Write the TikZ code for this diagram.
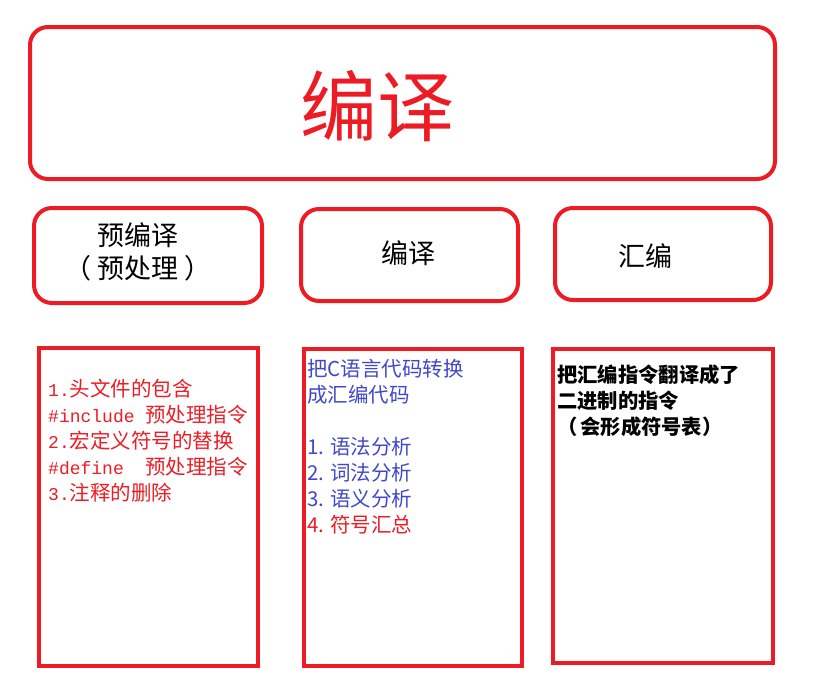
\documentclass[tikz,border=0pt]{standalone}
\usepackage{fontspec}
\setmainfont{Noto Sans CJK SC}
\newfontfamily\cjk{Noto Sans CJK SC}
\newfontfamily\monof{Liberation Mono}
\definecolor{cred}{HTML}{ED1C24}
\definecolor{cblue}{HTML}{3F48CC}
\newcommand{\mn}[1]{{\monof\fontsize{18}{26}\selectfont #1}}
\begin{document}
\begin{tikzpicture}[x=1pt,y=-1pt,
  rbox/.style={draw=cred,line width=4pt,rounded corners=18pt,inner sep=0pt},
  sbox/.style={draw=cred,line width=4pt,inner sep=0pt},
  lbl/.style={font=\fontsize{27}{33}\selectfont,align=center,text=black},
  body/.style={anchor=north west,inner sep=0pt,align=left,font=\fontsize{20.5}{26}\selectfont}]
\useasboundingbox (0,0) rectangle (823,686);
\node[rbox,minimum width=745pt,minimum height=152pt] (top) at (402.5,103) {};
\node[font=\fontsize{77}{77}\selectfont,text=cred] (title) at (377,106) {编译};
\node[rbox,minimum width=228pt,minimum height=95pt] (ba) at (148,255.5) {};
\node[rbox,minimum width=217pt,minimum height=92pt] (bb) at (409.5,255) {};
\node[rbox,minimum width=216pt,minimum height=92pt] (bc) at (663,254) {};
\node[lbl] (la) at (138,252) {预编译\\（\hspace{6pt}预处理\hspace{6pt}）};
\node[lbl] (lb) at (408,253) {编译};
\node[lbl] (lc) at (645,256) {汇编};
\node[sbox,minimum width=219pt,minimum height=318pt] (ra) at (148.5,507) {};
\node[sbox,minimum width=218pt,minimum height=317pt] (rb) at (413,507.5) {};
\node[sbox,minimum width=220pt,minimum height=314pt] (rc) at (663,506) {};
\node[body,text=cred] (ta) at (48,379) {%
\mn{1.}头文件的包含\\
\mn{\#include }预处理指令\\
\mn{2.}宏定义符号的替换\\
\mn{\#define\ \ }预处理指令\\
\mn{3.}注释的删除};
\node[body,text=cblue] (tb) at (307,359) {%
把C语言代码转换\\
成汇编代码\\
\mbox{}\\
1. 语法分析\\
2. 词法分析\\
3. 语义分析\\
\textcolor{cred}{4. 符号汇总}};
\node[body,text=black,font=\fontsize{20.3}{26}\selectfont\bfseries] (tc) at (557,365) {%
把汇编指令翻译成了\\
二进制的指令\\
（\hspace{3pt}会形成符号表）};
\end{tikzpicture}
\end{document}
